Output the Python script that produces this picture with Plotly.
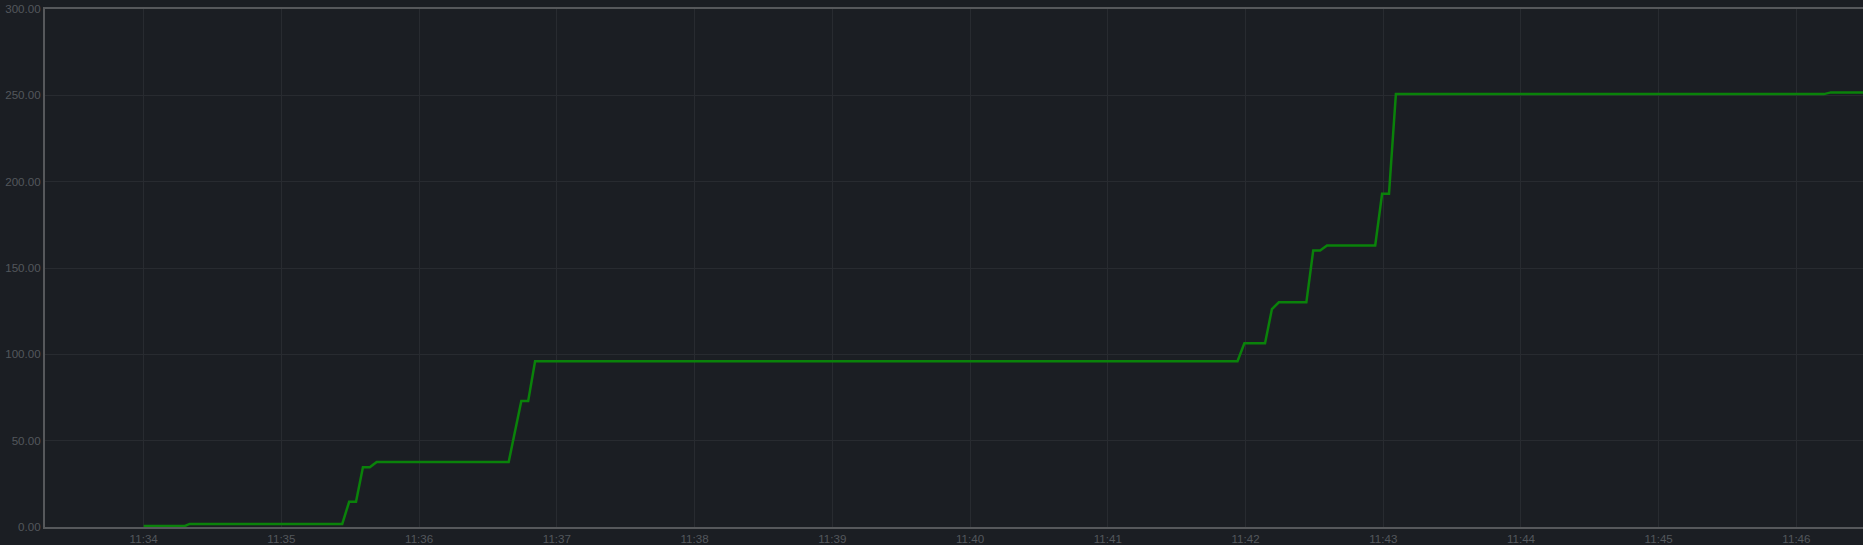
import plotly.graph_objects as go

# Data
day = "2024-01-01"
times = ["11:34:00", "11:34:18", "11:34:20", "11:35:26.5", "11:35:29.5", "11:35:32.5",
         "11:35:35.5", "11:35:38.5", "11:35:41.5", "11:36:39", "11:36:44.5", "11:36:47.5",
         "11:36:50.5", "11:41:56.5", "11:41:59.5", "11:42:08.5", "11:42:11.5", "11:42:14.5",
         "11:42:26.5", "11:42:29.5", "11:42:32.5", "11:42:35.5", "11:42:56.5", "11:42:59.5",
         "11:43:02.5", "11:43:05.5", "11:46:12", "11:46:15", "11:46:30"]
values = [0.6, 0.6, 1.8, 1.8, 14.6, 14.6,
          34.6, 34.6, 37.7, 37.7, 73, 73,
          96, 96, 106.4, 106.4, 126.2, 130.1,
          130.1, 160.2, 160.2, 163.1, 163.1, 193,
          193, 250.7, 250.7, 251.7, 251.7]
x_range = ["11:33:17", "11:46:29"]
y_range = [0, 300]

xs = [f"{day} {t}" for t in times]

fig = go.Figure()
fig.add_trace(go.Scatter(
    x=xs, y=values, mode="lines",
    line=dict(color="#0a820a", width=2.5),
    showlegend=False, hoverinfo="x+y",
))

bg = "#1b1e23"
grid = "#282b30"
axis_col = "#56585b"
text_col = "#53575c"
font = dict(family="Liberation Sans, Arial, sans-serif", size=11.6, color=text_col)

fig.update_layout(
    width=1863, height=545,
    paper_bgcolor=bg, plot_bgcolor=bg,
    margin=dict(l=45, r=0, t=9, b=18),
    font=font,
    showlegend=False,
)
fig.update_xaxes(
    type="date",
    range=[f"{day} {x_range[0]}", f"{day} {x_range[1]}"],
    dtick=60000, tickformat="%H:%M",
    showgrid=True, gridcolor=grid, gridwidth=1,
    showline=True, linecolor=axis_col, linewidth=2, mirror=True,
    zeroline=False, ticks="", tickfont=font,
)
fig.update_yaxes(
    range=y_range, dtick=50, tickformat=".2f",
    showgrid=True, gridcolor=grid, gridwidth=1,
    showline=True, linecolor=axis_col, linewidth=2,
    zeroline=False, ticks="", tickfont=font,
)

fig.write_html(
    "out.html",
    config={"displayModeBar": False},
    post_script="document.body.style.margin='0';document.body.style.overflow='hidden';"
                "document.body.style.background='" + bg + "';",
)
